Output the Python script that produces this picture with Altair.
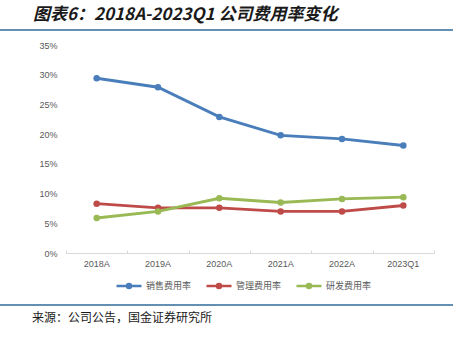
import altair as alt
import pandas as pd

# ---- data ----
categories = ["2018A", "2019A", "2020A", "2021A", "2022A", "2023Q1"]
series_names = ["销售费用率", "管理费用率", "研发费用率"]
sales = [29.4, 27.9, 22.9, 19.8, 19.2, 18.1]
mgmt = [8.3, 7.6, 7.6, 7.0, 7.0, 8.0]
rd = [5.9, 7.0, 9.2, 8.5, 9.1, 9.4]
y_ticks = [0, 5, 10, 15, 20, 25, 30, 35]
colors = ["#4A7EBB", "#BE4B48", "#98B954"]
title_text = "图表6：2018A-2023Q1 公司费用率变化"
source_text = "来源：公司公告，国金证券研究所"

rows = []
for name, vals in zip(series_names, [sales, mgmt, rd]):
    for c, v in zip(categories, vals):
        rows.append({"cat": c, "series": name, "value": v})
df = pd.DataFrame(rows)

legend_path = "M-1,0H1M-0.16,0A0.16,0.16 0 1,0 0.16,0A0.16,0.16 0 1,0 -0.16,0Z"

x_scale = alt.Scale(type="band", paddingInner=0, paddingOuter=0)
y_scale = alt.Scale(domain=[0, 35], nice=False)

lines = alt.Chart(df).mark_line(
    strokeWidth=2.9,
    point=alt.OverlayMarkDef(filled=True, size=42),
).encode(
    x=alt.X(
        "cat:N",
        sort=categories,
        scale=x_scale,
        axis=alt.Axis(
            title=None,
            orient="bottom",
            labelAngle=0,
            labelColor="#595959",
            labelFontSize=9,
            labelFont="Liberation Sans",
            domainColor="#D9D9D9",
            ticks=False,
            tickSize=0,
            labelPadding=6,
            grid=False,
        ),
    ),
    y=alt.Y(
        "value:Q",
        scale=y_scale,
        axis=alt.Axis(
            title=None,
            values=y_ticks,
            labelExpr="datum.value + '%'",
            labelColor="#595959",
            labelFontSize=9,
            labelFont="Liberation Sans",
            domain=False,
            ticks=False,
            tickSize=0,
            labelPadding=9,
            grid=False,
        ),
    ),
    color=alt.Color(
        "series:N",
        scale=alt.Scale(domain=series_names, range=colors),
        legend=alt.Legend(
            title=None,
            orient="none",
            direction="horizontal",
            legendX=49,
            legendY=227,
            symbolType=legend_path,
            symbolSize=625,
            symbolStrokeWidth=2.5,
            labelFont="Noto Sans CJK SC",
            labelFontSize=9,
            labelColor="#595959",
            labelOffset=3,
            columnPadding=9,
        ),
    ),
)

# tick marks pointing up into the plot at the category boundaries
tick_layer = alt.Chart(df).mark_point(opacity=0).encode(
    x=alt.X(
        "cat:N",
        sort=categories,
        scale=x_scale,
        axis=alt.Axis(
            title=None,
            orient="bottom",
            offset=-3,
            labels=False,
            domain=False,
            ticks=True,
            tickBand="extent",
            tickSize=3,
            tickColor="#D9D9D9",
            grid=False,
        ),
    ),
    y=alt.value(0),
)

one = pd.DataFrame({"t": [0]})

title = alt.Chart(one).mark_text(
    text=title_text,
    font="Noto Sans CJK SC",
    fontSize=17,
    fontWeight="bold",
    fontStyle="italic",
    color="#1A1A1A",
    align="left",
    baseline="middle",
).encode(x=alt.value(-33), y=alt.value(-30))

source = alt.Chart(one).mark_text(
    text=source_text,
    font="Noto Sans CJK SC",
    fontSize=12,
    color="#1A1A1A",
    align="left",
    baseline="middle",
).encode(x=alt.value(-34), y=alt.value(273))

top_rule = alt.Chart(one).mark_rule(color="#2E6A99", strokeWidth=1.5).encode(
    x=alt.value(-66), x2=alt.value(387), y=alt.value(-15)
)
bottom_rule = alt.Chart(one).mark_rule(color="#2E6A99", strokeWidth=1.5).encode(
    x=alt.value(-66), x2=alt.value(387), y=alt.value(260)
)

chart = alt.layer(tick_layer, lines, title, source, top_rule, bottom_rule).resolve_axis(
    x="independent"
).properties(
    width=368,
    height=208,
    autosize=alt.AutoSizeParams(type="none"),
    padding={"left": 66, "top": 45, "right": 23, "bottom": 85},
).configure(background="white", view=alt.ViewConfig(stroke=None))

chart.save("out.html", embed_options={"renderer": "svg", "actions": False})
